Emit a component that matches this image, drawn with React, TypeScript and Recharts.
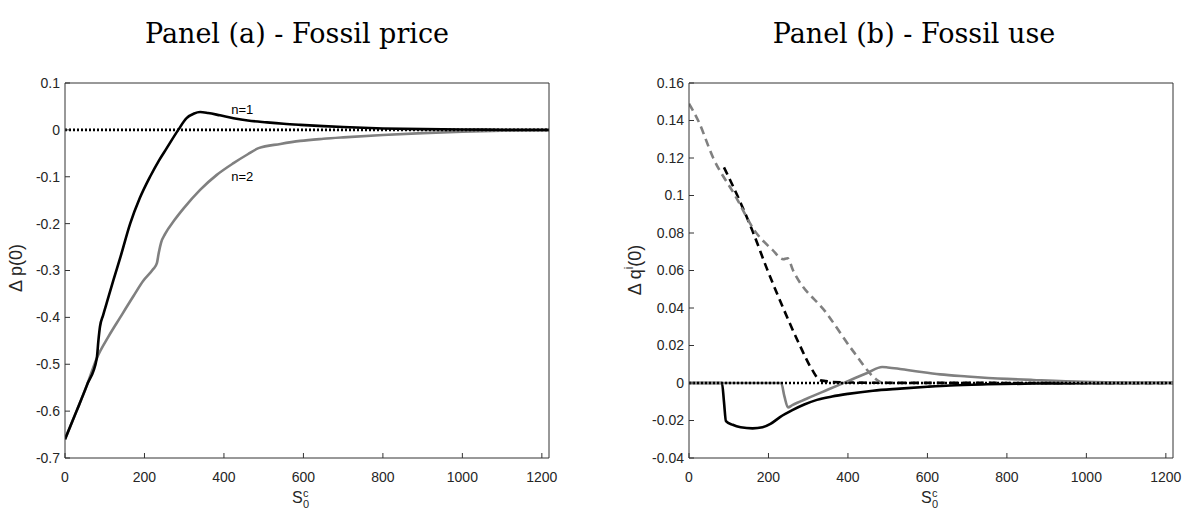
import React from "react";
import { LineChart, Line, XAxis, YAxis, ReferenceDot } from "recharts";

// x-axis: S0c
const xTicks = [0, 200, 400, 600, 800, 1000, 1200];
const xDomain: [number, number] = [0, 1218];

// panel (a)
const priceTicks = [-0.7, -0.6, -0.5, -0.4, -0.3, -0.2, -0.1, 0, 0.1];
const priceN1 = [
  { x: 0, y: -0.66 }, { x: 29, y: -0.6 }, { x: 55, y: -0.545 }, { x: 80, y: -0.487 },
  { x: 84, y: -0.45 }, { x: 88, y: -0.42 }, { x: 96, y: -0.395 }, { x: 105, y: -0.369 },
  { x: 122, y: -0.32 }, { x: 140, y: -0.27 }, { x: 164, y: -0.2 }, { x: 188, y: -0.146 },
  { x: 214, y: -0.1 }, { x: 236, y: -0.066 }, { x: 256, y: -0.039 }, { x: 285, y: 0 },
  { x: 306, y: 0.025 }, { x: 325, y: 0.035 }, { x: 340, y: 0.038 }, { x: 360, y: 0.036 },
  { x: 390, y: 0.031 }, { x: 424, y: 0.025 }, { x: 460, y: 0.02 }, { x: 508, y: 0.016 },
  { x: 550, y: 0.013 }, { x: 592, y: 0.0107 }, { x: 650, y: 0.008 }, { x: 700, y: 0.006 },
  { x: 800, y: 0.003 }, { x: 900, y: 0.0015 }, { x: 1000, y: 0.0007 }, { x: 1100, y: 0.0003 },
  { x: 1218, y: 0.0001 },
];
const priceN2 = [
  { x: 0, y: -0.66 }, { x: 29, y: -0.6 }, { x: 55, y: -0.545 }, { x: 80, y: -0.487 },
  { x: 110, y: -0.44 }, { x: 139, y: -0.4 }, { x: 172, y: -0.355 }, { x: 197, y: -0.322 },
  { x: 222, y: -0.297 }, { x: 231, y: -0.285 }, { x: 236, y: -0.262 }, { x: 242, y: -0.24 },
  { x: 252, y: -0.222 }, { x: 275, y: -0.193 }, { x: 298, y: -0.168 }, { x: 340, y: -0.128 },
  { x: 382, y: -0.096 }, { x: 424, y: -0.071 }, { x: 460, y: -0.052 }, { x: 487, y: -0.039 },
  { x: 542, y: -0.03 }, { x: 592, y: -0.0235 }, { x: 650, y: -0.019 }, { x: 700, y: -0.016 },
  { x: 800, y: -0.011 }, { x: 900, y: -0.007 }, { x: 1000, y: -0.004 }, { x: 1100, y: -0.002 },
  { x: 1218, y: -0.0008 },
];

// panel (b)
const useTicks = [-0.04, -0.02, 0, 0.02, 0.04, 0.06, 0.08, 0.1, 0.12, 0.14, 0.16];
const useBlackDashed = [
  { x: 88, y: 0.115 }, { x: 128, y: 0.097 }, { x: 160, y: 0.081 }, { x: 196, y: 0.061 },
  { x: 237, y: 0.04 }, { x: 279, y: 0.02 }, { x: 310, y: 0.007 }, { x: 330, y: 0.0015 },
  { x: 345, y: 0.001 }, { x: 360, y: 0.0005 }, { x: 400, y: 0.0003 }, { x: 480, y: 0.0001 },
  { x: 1218, y: 0 },
];
const useGrayDashed = [
  { x: 0, y: 0.149 }, { x: 23, y: 0.14 }, { x: 61, y: 0.12 }, { x: 116, y: 0.1 },
  { x: 166, y: 0.081 }, { x: 210, y: 0.071 }, { x: 237, y: 0.066 }, { x: 248, y: 0.0665 },
  { x: 262, y: 0.06 }, { x: 347, y: 0.037 }, { x: 413, y: 0.017 }, { x: 473, y: 0.0016 },
  { x: 485, y: 0 },
];
const useBlackSolid = [
  { x: 0, y: 0 }, { x: 83, y: 0 }, { x: 88, y: -0.01 }, { x: 93, y: -0.0203 },
  { x: 110, y: -0.0223 }, { x: 130, y: -0.0236 }, { x: 160, y: -0.0242 }, { x: 185, y: -0.0236 },
  { x: 205, y: -0.0218 }, { x: 229, y: -0.0182 }, { x: 260, y: -0.0145 }, { x: 290, y: -0.0115 },
  { x: 322, y: -0.009 }, { x: 360, y: -0.0072 }, { x: 400, y: -0.0058 }, { x: 463, y: -0.0041 },
  { x: 531, y: -0.003 }, { x: 600, y: -0.002 }, { x: 657, y: -0.0013 }, { x: 750, y: -0.0007 },
  { x: 866, y: -0.0003 }, { x: 1000, y: -0.0001 }, { x: 1218, y: 0 },
];
const useGraySolid = [
  { x: 0, y: 0 }, { x: 232, y: 0 }, { x: 240, y: -0.007 }, { x: 249, y: -0.013 },
  { x: 260, y: -0.0118 }, { x: 300, y: -0.008 }, { x: 350, y: -0.0035 }, { x: 400, y: 0.001 },
  { x: 450, y: 0.0055 }, { x: 486, y: 0.0085 }, { x: 500, y: 0.0083 }, { x: 531, y: 0.0075 },
  { x: 580, y: 0.006 }, { x: 632, y: 0.0046 }, { x: 700, y: 0.0035 }, { x: 800, y: 0.0022 },
  { x: 866, y: 0.0016 }, { x: 992, y: 0.0006 }, { x: 1100, y: 0.0002 }, { x: 1218, y: 0.0001 },
];

const zeroLine = [{ x: 0, y: 0 }, { x: 1218, y: 0 }];

const AXIS = "#333";
const GRAY = "#808080";
const sans = "'Liberation Sans', Arial, sans-serif";
const tickFont = { fontSize: 14, fill: "#262626", fontFamily: sans };
const fmt = (v: number) => String(Number(v.toFixed(2)));

// box axes: bottom/left carry labels, top/right only inward ticks
function axes(yTicks: number[], yDomain: [number, number]) {
  return [
    <XAxis
      key="xb"
      xAxisId="b"
      type="number"
      dataKey="x"
      domain={xDomain}
      ticks={xTicks}
      allowDataOverflow
      height={1}
      stroke={AXIS}
      tickSize={-5}
      tickMargin={19}
      tick={tickFont}
      tickFormatter={fmt}
    />,
    <XAxis
      key="xt"
      xAxisId="t"
      orientation="top"
      type="number"
      dataKey="x"
      domain={xDomain}
      ticks={xTicks}
      allowDataOverflow
      height={1}
      stroke={AXIS}
      tickSize={-5}
      tick={false}
    />,
    <YAxis
      key="yl"
      yAxisId="l"
      type="number"
      domain={yDomain}
      ticks={yTicks}
      allowDataOverflow
      width={1}
      stroke={AXIS}
      tickSize={-5}
      tickMargin={10}
      tick={tickFont}
      tickFormatter={fmt}
    />,
    <YAxis
      key="yr"
      yAxisId="r"
      orientation="right"
      type="number"
      domain={yDomain}
      ticks={yTicks}
      allowDataOverflow
      width={1}
      stroke={AXIS}
      tickSize={-5}
      tick={false}
    />,
  ];
}

function series(data: { x: number; y: number }[], color: string, dash?: string, key?: string) {
  return (
    <Line
      key={key}
      data={data}
      dataKey="y"
      xAxisId="b"
      yAxisId="l"
      type="monotone"
      stroke={color}
      strokeWidth={2.6}
      strokeDasharray={dash}
      dot={false}
      activeDot={false}
      isAnimationActive={false}
    />
  );
}

export default function App() {
  return (
    <div style={{ position: "absolute", left: 0, top: 0, width: 1183, height: 513, background: "#fff" }}>
      <div style={{ position: "absolute", left: 0, top: 0 }}>
        <LineChart width={600} height={513} margin={{ top: 82, right: 50, bottom: 54, left: 64 }}>
          {axes(priceTicks, [-0.7, 0.1])}
          {series(priceN2, GRAY, undefined, "n2")}
          {series(priceN1, "#000", undefined, "n1")}
          {series(zeroLine, "#000", "2 2", "z")}
          <ReferenceDot
            xAxisId="b"
            yAxisId="l"
            x={446}
            y={0.043}
            r={0.01}
            fill="none"
            stroke="none"
            label={{ value: "n=1", position: "center", fontSize: 13, fill: "#000", fontFamily: sans }}
          />
          <ReferenceDot
            xAxisId="b"
            yAxisId="l"
            x={446}
            y={-0.1}
            r={0.01}
            fill="none"
            stroke="none"
            label={{ value: "n=2", position: "center", fontSize: 13, fill: "#000", fontFamily: sans }}
          />
        </LineChart>
      </div>
      <div style={{ position: "absolute", left: 600, top: 0 }}>
        <LineChart width={583} height={513} margin={{ top: 82, right: 9, bottom: 54, left: 88 }}>
          {axes(useTicks, [-0.04, 0.16])}
          {series(useBlackDashed, "#000", "8 5", "bd")}
          {series(useGrayDashed, GRAY, "8 5", "gd")}
          {series(useBlackSolid, "#000", undefined, "bs")}
          {series(useGraySolid, GRAY, undefined, "gs")}
          {series(zeroLine, "#000", "2 2", "z")}
        </LineChart>
      </div>
      <svg width={1183} height={513} style={{ position: "absolute", left: 0, top: 0, pointerEvents: "none" }}>
        <g fontFamily="'DejaVu Serif', serif" fontSize={27} fill="#000" textAnchor="middle">
          <text x={297} y={43}>Panel (a) - Fossil price</text>
          <text x={914} y={43}>Panel (b) - Fossil use</text>
        </g>
        <g fontFamily={sans} fill="#262626">
          <text fontSize={16} x={292} y={503}>S</text>
          <text fontSize={11} x={303} y={497}>c</text>
          <text fontSize={11} x={303} y={508}>0</text>
          <text fontSize={16} x={921} y={503}>S</text>
          <text fontSize={11} x={932} y={497}>c</text>
          <text fontSize={11} x={932} y={508}>0</text>
          <text fontSize={18} x={22} y={268} textAnchor="middle" transform="rotate(-90 22 268)">
            Δ p(0)
          </text>
          <text fontSize={18} x={641} y={270} textAnchor="middle" transform="rotate(-90 641 270)">
            Δ q<tspan fontSize={12} dy={-8}>i</tspan>
            <tspan dy={8}>(0)</tspan>
          </text>
        </g>
      </svg>
    </div>
  );
}
